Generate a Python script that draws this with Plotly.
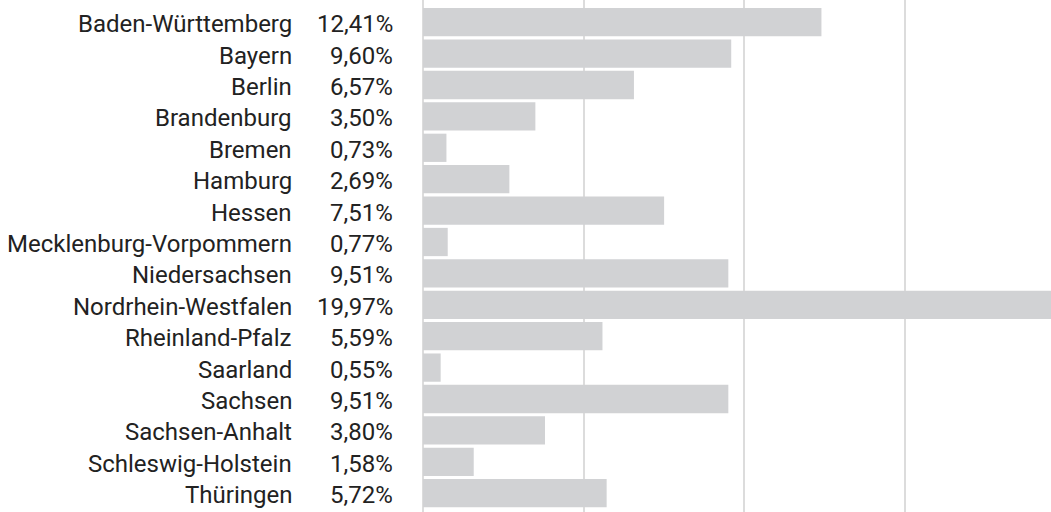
import plotly.graph_objects as go

states = ["Baden-Württemberg", "Bayern", "Berlin", "Brandenburg", "Bremen", "Hamburg",
          "Hessen", "Mecklenburg-Vorpommern", "Niedersachsen", "Nordrhein-Westfalen",
          "Rheinland-Pfalz", "Saarland", "Sachsen", "Sachsen-Anhalt",
          "Schleswig-Holstein", "Thüringen"]
shares = [12.41, 9.60, 6.57, 3.50, 0.73, 2.69, 7.51, 0.77, 9.51, 19.97,
          5.59, 0.55, 9.51, 3.80, 1.58, 5.72]
share_labels = ["12,41%", "9,60%", "6,57%", "3,50%", "0,73%", "2,69%", "7,51%", "0,77%",
                "9,51%", "19,97%", "5,59%", "0,55%", "9,51%", "3,80%", "1,58%", "5,72%"]

W, H = 1051, 512
L = 423
pos = list(range(len(states)))

fig = go.Figure()
fig.add_trace(go.Bar(
    x=shares, y=pos, orientation="h", width=0.9,
    marker=dict(color="#d1d2d4", line=dict(width=0)),
    hoverinfo="skip",
))

font = dict(family="Roboto", size=24, color="#222222")
plot_w = W - L
for i, (name, lab) in enumerate(zip(states, share_labels)):
    fig.add_annotation(x=(294 - L) / plot_w, xref="paper", y=i, yref="y",
                       text=name, showarrow=False, xanchor="right", yanchor="middle",
                       yshift=-2, font=font)
    fig.add_annotation(x=(395 - L) / plot_w, xref="paper", y=i, yref="y",
                       text=lab, showarrow=False, xanchor="right", yanchor="middle",
                       yshift=-2, font=font)

row = 31.4
top = 22.2
fig.update_layout(
    width=W, height=H,
    margin=dict(l=L, r=0, t=0, b=0),
    paper_bgcolor="white", plot_bgcolor="white",
    showlegend=False,
    xaxis=dict(range=[0, 19.56], dtick=5, tick0=0, showgrid=True, gridcolor="#dcdcdc",
               gridwidth=2, zeroline=True, zerolinecolor="#dcdcdc", zerolinewidth=2,
               showticklabels=False, ticks="", showline=False, fixedrange=True),
    yaxis=dict(range=[(H - top) / row, -top / row], showgrid=False, zeroline=False,
               showticklabels=False, ticks="", showline=False, fixedrange=True),
)

fig.write_html("out.html", config={"displayModeBar": False},
               post_script="document.body.style.margin='0';document.body.style.overflow='hidden';")
